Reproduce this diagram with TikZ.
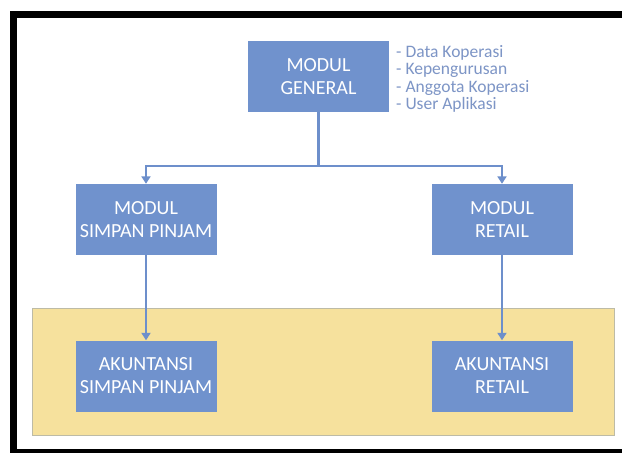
\documentclass[tikz,border=0pt]{standalone}
\usepackage{fontspec}
\setmainfont{Carlito}
\usetikzlibrary{arrows.meta}
\definecolor{boxblue}{HTML}{7092CD}
\definecolor{lineblue}{HTML}{6D8FCB}
\definecolor{listblue}{HTML}{7D95C6}
\definecolor{paleyellow}{HTML}{F6E19D}
\definecolor{yellowedge}{HTML}{BDBBA6}
\tikzset{
  box/.style={rectangle, fill=boxblue, draw=none, text=white, minimum width=141pt,
    minimum height=71pt, inner sep=0pt, align=center, font=\fontsize{20}{23}\selectfont},
  conn/.style={draw=lineblue, line width=2.4pt},
  arr/.style={conn, -{Triangle[width=9pt,length=7.5pt]}},
  listtext/.style={text=listblue, align=left, inner sep=0pt, font=\fontsize{17.5}{17.5}\selectfont}
}
\begin{document}
\begin{tikzpicture}[x=1pt,y=-1pt]
\useasboundingbox (0,0) rectangle (622,453);
\clip (0,0) rectangle (622,453);
\fill[white] (0,0) rectangle (622,453);
\draw[line width=7pt] (13.5,14.5) rectangle (640,452.5);
\draw[fill=paleyellow, draw=yellowedge, line width=0.8pt] (32,308) rectangle (614,435);
\node[box] (mg) at (318.5,76.5) {MODUL\\GENERAL};
\node[box] (msp) at (146,219.5) {MODUL\\SIMPAN PINJAM};
\node[box] (mr) at (502,219.5) {MODUL\\RETAIL};
\node[box] (asp) at (146,376) {AKUNTANSI\\SIMPAN PINJAM};
\node[box] (ar) at (502,376) {AKUNTANSI\\RETAIL};
\node[listtext, anchor=west] (lst) at (396,79) {- Data Koperasi\\- Kepengurusan\\- Anggota Koperasi\\- User Aplikasi};
\coordinate (j) at (318.5,166);
\draw[conn] (mg.south) -- (j);
\draw[arr] (j) -| (msp.north);
\draw[arr] (j) -| (mr.north);
\draw[arr] (msp.south) -- (asp.north);
\draw[arr] (mr.south) -- (ar.north);
\end{tikzpicture}
\end{document}
